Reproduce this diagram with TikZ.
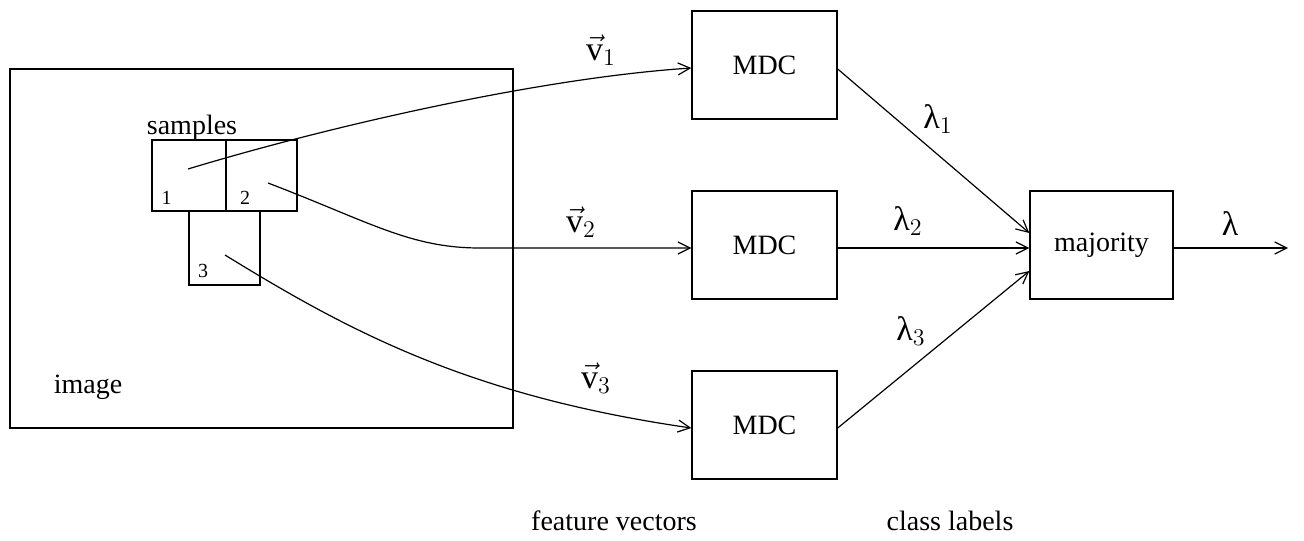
\documentclass[tikz,border=0pt]{standalone}
\usepackage{fontspec}
\setmainfont{Liberation Serif}
\usetikzlibrary{arrows.meta}
\begin{document}
\begin{tikzpicture}[x=0.5pt,y=-0.5pt,
  font=\fontsize{14}{17}\selectfont,
  box/.style={draw,line width=0.7pt,inner sep=0pt,minimum width=72.5pt,minimum height=54pt},
  sbox/.style={draw,line width=0.7pt,inner sep=0pt},
  lbl/.style={inner sep=0pt},
  big/.style={inner sep=0pt,font=\fontsize{17}{20}\selectfont},
  small/.style={inner sep=0pt,font=\fontsize{10}{12}\selectfont},
  conn/.style={line width=0.6pt,-{Straight Barb[length=6pt,width=6pt,line width=0.6pt]}}]
\useasboundingbox (0,0) rectangle (1304,540);
% image and samples
\node[sbox,minimum width=251.5pt,minimum height=179.5pt] (img) at (261.5,248.5) {};
\node[sbox,minimum width=37pt,minimum height=35.5pt] (s1) at (189,175.5) {};
\node[sbox,minimum width=35.5pt,minimum height=35.5pt] (s2) at (261.5,175.5) {};
\node[sbox,minimum width=35.5pt,minimum height=37pt] (s3) at (224.5,248) {};
\node[lbl,anchor=base] (samples) at (192,134) {samples};
\node[lbl,anchor=base] (imagetxt) at (88,393) {image};
\node[small,anchor=base] (n1) at (166.5,204) {1};
\node[small,anchor=base] (n2) at (245,204) {2};
\node[small,anchor=base] (n3) at (203,277) {3};
\coordinate (p1) at (188,169);
\coordinate (p2) at (268,183);
\coordinate (p3) at (225,255);
% MDC boxes
\node[box] (m1) at (764.5,65) {MDC};
\node[box] (m2) at (764.5,245) {MDC};
\node[box] (m3) at (764.5,425) {MDC};
\node[box,minimum width=71.5pt] (maj) at (1101.5,245) {majority};
\coordinate (out) at (1288,248);
% feature vector arrows
\draw[conn] (p1) .. controls (330,126) and (540,78) .. ([yshift=-1.5pt]m1.west);
\draw[conn] (p2) .. controls (370,222) and (410,248) .. (480,248) -- ([yshift=-1.5pt]m2.west);
\draw[conn] (p3) .. controls (350,332) and (470,396) .. ([yshift=-1.5pt]m3.west);
% class label arrows
\draw[conn] ([yshift=-2pt]m1.east) -- ([yshift=6pt]maj.west);
\draw[conn] ([yshift=-1.5pt]m2.east) -- ([yshift=-1.5pt]maj.west);
\draw[conn] ([yshift=-1.5pt]m3.east) -- ([yshift=-13pt]maj.west);
\draw[conn] ([yshift=-1.5pt]maj.east) -- (out);
% labels
\node[big] (v1) at (601,50) {$\vec{\mathrm{v}}_1$};
\node[big] (v2) at (581,222) {$\vec{\mathrm{v}}_2$};
\node[big] (v3) at (596,378) {$\vec{\mathrm{v}}_3$};
\node[big] (l1) at (938,119) {λ$_1$};
\node[big] (l2) at (908,221) {λ$_2$};
\node[big] (l3) at (911,331) {λ$_3$};
\node[big] (l) at (1230,224) {λ};
\node[lbl,anchor=base] (fv) at (614,530) {feature vectors};
\node[lbl,anchor=base] (cl) at (950,530) {class labels};
\end{tikzpicture}
\end{document}
